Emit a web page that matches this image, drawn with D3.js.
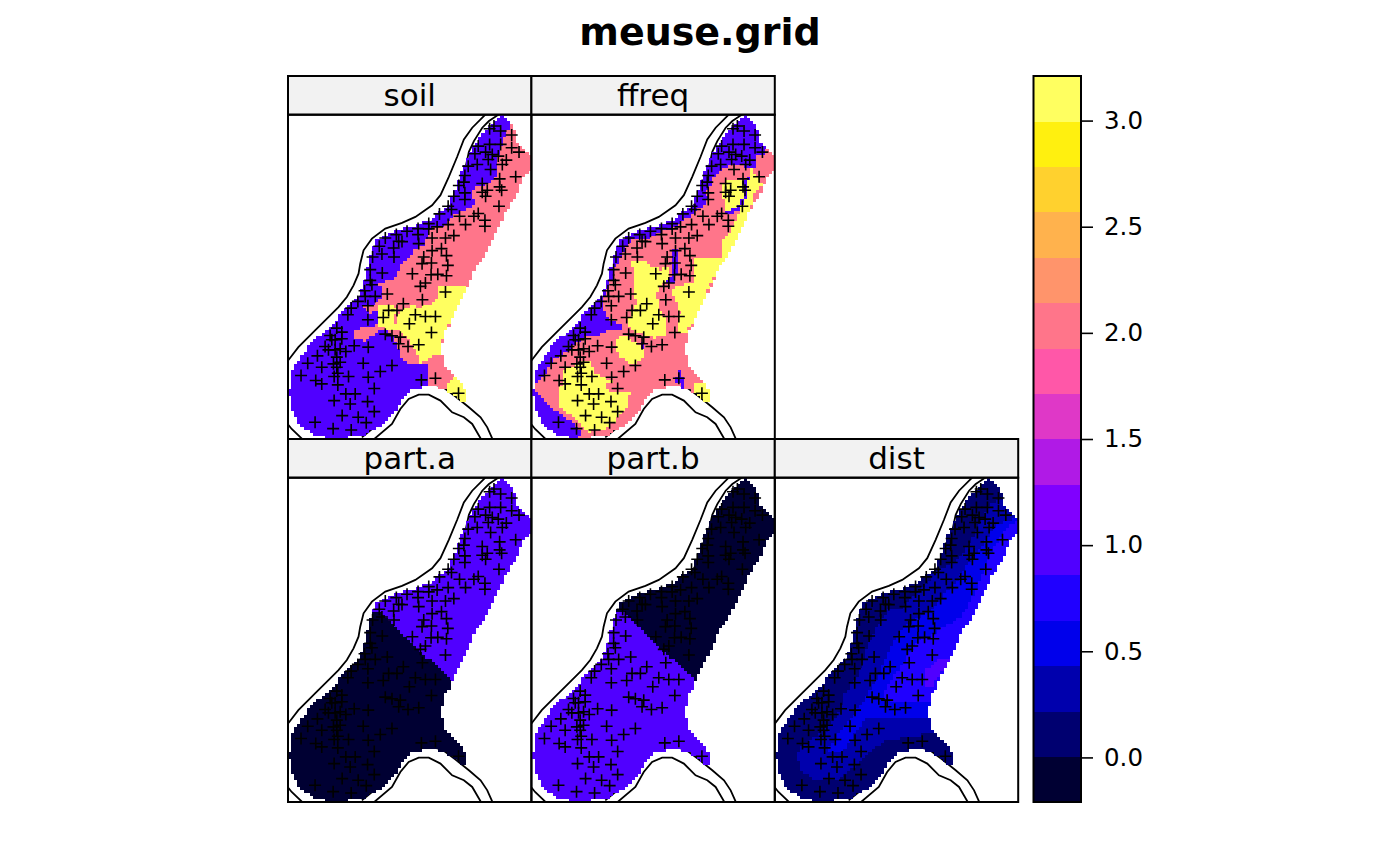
<!DOCTYPE html>
<html>
<head>
<meta charset="utf-8">
<title>meuse.grid</title>
<script src="https://cdn.jsdelivr.net/npm/d3@7"></script>
<style>
	html, body { margin: 0; padding: 0; background: #fff; }
	svg { display: block; }
	text { font-family: "DejaVu Sans", sans-serif; fill: #000; }
</style>
</head>
<body>
<div id="chart"></div>
<script>

// bpy.colors(16)
var bpyColours = ["#000033","#000070","#0000AD","#0000EB","#2000FF","#5000FF","#8000FF","#B01AE6",
	"#DF38C7","#FF57A8","#FF758A","#FF946B","#FFB24D","#FFD12E","#FFF00F","#FFFF60"];
var colourLimits = [-0.21, 3.21];
var legendTicks = [0, 0.5, 1, 1.5, 2, 2.5, 3];

// all shapes below are in map units
var mapXRange = [9, 737];
var mapYRange = [24, 995];
var gridCols = 78;
var gridRows = 104;

var gridOutline = [[648,24],[665,45],[685,65],[695,105],[715,125],[737,155],[733,190],[705,225],[690,268],[675,290],
	[655,320],[640,360],[627,385],[610,420],[595,450],[570,480],[555,515],[540,545],[525,575],[513,600],[497,630],
	[487,665],[477,670],[477,700],[468,710],[468,735],[477,745],[477,775],[487,790],[505,805],[525,825],[535,845],
	[543,850],[543,885],[525,885],[500,860],[470,845],[440,838],[380,845],[350,870],[330,910],[290,950],[235,985],
	[150,995],[90,985],[40,950],[20,900],[12,860],[18,800],[35,770],[60,730],[95,690],[130,670],[160,630],[185,595],
	[215,570],[235,530],[245,490],[260,430],[270,405],[300,385],[340,368],[380,360],[430,340],[465,315],[490,290],
	[510,240],[525,200],[550,150],[570,110],[590,80],[620,55],[635,35]];

var soilPink = [[675,58],[665,73],[655,98],[640,138],[635,198],[625,223],[560,246],[568,293],[500,328],[470,358],
	[430,368],[420,413],[380,428],[375,458],[360,458],[340,488],[335,513],[280,528],[290,553],[280,588],[225,593],
	[250,618],[280,613],[278,653],[205,668],[205,693],[235,703],[262,686],[300,660],[310,676],[325,696],[345,733],
	[345,748],[365,768],[420,770],[430,773],[430,836],[480,851],[560,896],[800,600],[800,0],[700,0]];
var soilYellow = [[278,588],[300,598],[330,598],[340,618],[385,593],[395,603],[450,583],[460,538],[560,536],[525,578],
	[510,608],[495,638],[480,668],[470,698],[467,738],[440,748],[405,768],[395,743],[370,698],[345,668],[325,663],
	[310,668],[280,653],[278,618]];
var soilYellowSouth = [[487,828],[505,810],[560,846],[560,896],[525,883],[487,853]];
var soilNotch = [[325,621],[337,621],[337,648],[325,648]];

var ffreqBlueNorth = [[644,8],[684,58],[714,138],[684,150],[684,183],[604,173],[579,188],[554,208],[549,238],[529,253],
	[539,273],[529,293],[494,318],[444,358],[389,378],[354,398],[314,398],[289,418],[274,458],[254,488],[244,528],
	[229,568],[219,598],[244,638],[279,653],[279,666],[234,670],[204,686],[169,690],[134,718],[104,738],[74,760],
	[49,798],[29,826],[9,828],[-16,778],[104,658],[204,538],[300,300],[500,100],[600,0]];
var ffreqBlueSouth = [[9,846],[39,868],[64,898],[114,933],[139,948],[166,988],[104,998],[24,958],[4,898]];
var ffreqBlueSmall = [[436,823],[449,788],[459,793],[469,843],[459,843],[449,823],[414,826]];
var ffreqBlueThin = [[429,423],[449,423],[444,488],[439,528],[419,533],[414,523],[429,498]];
var ffreqBlueDitch = [[334,703],[349,703],[349,733],[339,733]];
var ffreqBlueCurve = [[649,218],[659,208],[654,258],[644,288],[629,316],[589,321],[589,313],[624,306],[639,278],[644,238]];
var ffreqYellowNorth = [[589,218],[644,223],[659,208],[666,183],[684,208],[699,233],[674,263],[664,308],[644,358],
	[629,388],[614,418],[599,458],[579,458],[582,403],[614,358],[629,328],[644,313],[594,318],[582,273],[579,238]];
var ffreqYellowCentre = [[314,488],[304,470],[335,458],[369,478],[399,488],[424,478],[424,518],[399,533],[384,563],[399,618],
	[414,653],[414,688],[374,693],[344,683],[304,668],[299,638],[324,588],[314,538]];
var ffreqYellowEast = [[494,448],[499,488],[494,523],[424,548],[444,588],[454,613],[444,643],[449,678],[474,673],
	[499,633],[519,593],[534,553],[554,513],[574,473],[584,463],[604,428],[579,423],[579,453],[514,458]];
var ffreqYellowLow = [[259,693],[294,688],[334,718],[349,738],[329,768],[304,768],[269,748],[259,718]];
var ffreqYellowWest = [[104,788],[129,778],[179,758],[199,798],[219,808],[254,818],[229,838],[249,858],[304,858],
	[299,898],[274,918],[254,948],[224,968],[174,973],[144,938],[104,908],[89,888],[89,848],[104,823]];
var ffreqYellowSouth = [[494,828],[529,828],[544,848],[544,883],[524,883],[499,858]];

var partNorth = [[255,420],[290,430],[495,630],[800,640],[800,0],[255,0]];

var distBand2 = [[687,85],[647,110],[607,190],[567,260],[487,310],[437,370],[387,420],[347,420],[297,500],[277,560],
	[257,620],[217,670],[207,720],[157,780],[97,820],[72,850],[87,900],[127,930],[207,925],[277,860],[337,810],
	[480,790],[800,790],[800,85]];
var distBand3 = [[717,150],[667,170],[627,230],[597,270],[547,340],[477,420],[397,470],[357,530],[317,620],[277,690],
	[217,770],[157,850],[207,850],[250,790],[280,745],[800,745],[800,150]];
var distBand4 = [[732,155],[702,175],[657,250],[627,320],[597,390],[567,440],[487,490],[437,510],[377,600],[327,680],
	[367,697],[800,697],[800,155]];
var distBand5 = [[532,565],[502,565],[457,600],[452,650],[482,650],[497,620],[517,590]];

// panel name, value outside every zone, then [value, polygon] on top of each other
var panelNames = ["soil", "ffreq", "part.a", "part.b", "dist"];
var panelBase = [1, 2, 0, 1, 0.1];
var panelZones = [
	[[2, soilPink], [3, soilYellow], [3, soilYellowSouth], [2, soilNotch]],
	[[1, ffreqBlueNorth], [1, ffreqBlueSouth], [1, ffreqBlueSmall], [1, ffreqBlueThin], [1, ffreqBlueDitch],
		[3, ffreqYellowNorth], [3, ffreqYellowCentre], [3, ffreqYellowEast], [3, ffreqYellowLow], [3, ffreqYellowWest],
		[3, ffreqYellowSouth], [1, ffreqBlueCurve]],
	[[1, partNorth]],
	[[0, partNorth]],
	[[0.32, distBand2], [0.54, distBand3], [0.75, distBand4], [0.96, distBand5]]
];
var panelCol = [0, 1, 0, 1, 2];
var panelRow = [0, 0, 1, 1, 1];

// the banks run under the grid, so only part of each one shows
var riverLines = [
	[[0,772],[40,720],[90,670],[130,630],[160,600],[185,570],[205,535],[220,500],[225,470],[235,430],[260,395],[300,365],
		[350,348],[390,330],[440,295],[465,265],[490,210],[515,150],[535,98],[560,63],[600,23],[625,5]],
	[[60,745],[100,700],[160,645],[205,600],[245,545],[255,500],[270,445],[285,415],[320,395],[370,378],[430,350],
		[480,320],[510,270],[535,205],[550,135],[565,103],[590,63],[610,43],[640,23],[660,10]],
	[[230,990],[285,945],[325,900],[345,860],[385,835],[430,828],[470,838],[510,868],[550,900],[585,930],[605,960],[625,1005]],
	[[255,1005],[320,950],[345,905],[370,875],[400,862],[430,862],[465,880],[500,915],[535,930],[560,950],[592,1005]],
	[[0,940],[20,965],[60,1003]]
];

var meusePoints = [[612,66],[625,58],[645,73],[678,85],[612,113],[645,113],[578,118],[678,123],[600,136],[568,141],
	[700,136],[620,143],[638,148],[608,158],[662,160],[650,173],[548,178],[575,173],[615,188],[690,210],[538,206],
	[642,216],[535,226],[520,236],[590,230],[642,240],[648,250],[605,250],[590,256],[538,258],[505,268],[600,268],
	[538,278],[488,298],[498,308],[640,298],[462,321],[522,328],[578,320],[565,328],[598,340],[430,350],[540,353],
	[488,353],[598,358],[455,360],[398,365],[365,373],[430,366],[333,383],[398,383],[300,393],[505,386],[480,393],
	[340,403],[350,404],[440,393],[325,423],[282,418],[400,410],[440,431],[468,425],[290,441],[483,446],[326,450],
	[262,450],[415,450],[410,470],[438,468],[487,475],[255,488],[291,498],[381,500],[437,503],[457,502],[483,506],
	[255,520],[260,533],[420,528],[405,538],[480,555],[238,551],[306,561],[240,568],[270,568],[218,583],[411,578],
	[354,590],[248,596],[198,603],[310,610],[335,610],[188,623],[390,623],[420,628],[450,628],[294,631],[248,638],
	[372,650],[155,663],[170,675],[438,676],[135,685],[300,681],[320,686],[345,690],[140,698],[170,695],[150,698],
	[340,710],[400,713],[368,718],[120,718],[207,716],[249,720],[130,728],[165,725],[150,728],[182,733],[97,746],
	[155,750],[165,765],[68,768],[234,768],[145,770],[155,780],[320,775],[110,780],[285,793],[158,798],[48,805],
	[147,808],[190,808],[249,810],[92,820],[408,818],[450,813],[110,830],[158,833],[267,844],[182,860],[210,860],
	[519,858],[147,880],[247,883],[195,890],[267,913],[171,925],[219,930],[90,945],[243,946],[144,964],[198,968]];

var svg = d3.select("#chart").append("svg").attr("width", 1400).attr("height", 866);

var margin = {"top": 76, "left": 288};
var panelW = 243.4;
var panelH = 324.3;
var stripH = 38.7;

var colour = d3.scaleQuantize().domain(colourLimits).range(bpyColours);
var mapX = d3.scaleLinear().domain(mapXRange).range([0, panelW]);
var mapY = d3.scaleLinear().domain(mapYRange).range([0, panelH]);

// the cells of the grid that fall inside the outline
var cells = [];
var cellW = (mapXRange[1] - mapXRange[0]) / gridCols;
var cellH = (mapYRange[1] - mapYRange[0]) / gridRows;
for (var r = 0; r < gridRows; r++) {
	for (var c = 0; c < gridCols; c++) {
		var cx = mapXRange[0] + (c + 0.5) * cellW;
		var cy = mapYRange[0] + (r + 0.5) * cellH;
		if (d3.polygonContains(gridOutline, [cx, cy]))
			cells.push({"x": cx, "y": cy});
	}
}

function cellValue(p, cell) {
	var v = panelBase[p];
	panelZones[p].forEach(function(z) {
		if (d3.polygonContains(z[1], [cell.x, cell.y])) v = z[0];
	});
	return v;
}

var riverPath = d3.line().x(function(d) { return mapX(d[0]); }).y(function(d) { return mapY(d[1]); });

panelNames.forEach(function(name, p) {
	var g = svg.append("g")
		.attr("transform", "translate(" + (margin.left + panelCol[p] * panelW) + "," + (margin.top + panelRow[p] * (panelH + stripH)) + ")");

	g.append("rect")
		.attr("width", panelW)
		.attr("height", stripH)
		.attr("fill", "#f2f2f2")
		.attr("stroke", "black")
		.attr("stroke-width", 2);

	var body = g.append("g").attr("transform", "translate(0," + stripH + ")");
	svg.append("clipPath").attr("id", "clip" + p).append("rect").attr("width", panelW).attr("height", panelH);
	var inner = body.append("g").attr("clip-path", "url(#clip" + p + ")");

	inner.selectAll("path.river")
		.data(riverLines)
		.enter().append("path")
		.attr("class", "river")
		.attr("d", riverPath)
		.attr("fill", "none")
		.attr("stroke", "black")
		.attr("stroke-width", 1.8);

	inner.selectAll("rect.cell")
		.data(cells)
		.enter().append("rect")
		.attr("class", "cell")
		.attr("x", function(d) { return mapX(d.x - cellW / 2); })
		.attr("y", function(d) { return mapY(d.y - cellH / 2); })
		.attr("width", mapX(cellW) - mapX(0) + 0.3)
		.attr("height", mapY(cellH) - mapY(0) + 0.3)
		.attr("shape-rendering", "crispEdges")
		.attr("fill", function(d) { return colour(cellValue(p, d)); });

	inner.selectAll("path.point")
		.data(meusePoints)
		.enter().append("path")
		.attr("class", "point")
		.attr("transform", function(d) { return "translate(" + mapX(d[0]) + "," + mapY(d[1]) + ")"; })
		.attr("d", "M-6 0H6M0 -6V6")
		.attr("fill", "none")
		.attr("stroke", "black")
		.attr("stroke-width", 1.6);

	body.append("rect")
		.attr("width", panelW)
		.attr("height", panelH)
		.attr("fill", "none")
		.attr("stroke", "black")
		.attr("stroke-width", 2);

	// after the frame, the tail of the q runs onto it
	g.append("text")
		.attr("x", panelW / 2)
		.attr("y", stripH / 2 + 10.5)
		.attr("text-anchor", "middle")
		.style("font-size", "31px")
		.text(name);
});

svg.append("text")
	.attr("x", 700)
	.attr("y", 45)
	.attr("text-anchor", "middle")
	.style("font-size", "38px")
	.style("font-weight", "bold")
	.text("meuse.grid");

// colour key
var keyX = 1033.5, keyW = 47.5, keyTop = 76, keyBottom = 802;
var keyY = d3.scaleLinear().domain(colourLimits).range([keyBottom, keyTop]);
var key = svg.append("g");
key.selectAll("rect.band")
	.data(bpyColours)
	.enter().append("rect")
	.attr("class", "band")
	.attr("x", keyX)
	.attr("width", keyW)
	.attr("y", function(d) { return keyY(colour.invertExtent(d)[1]); })
	.attr("height", function(d) { return keyY(colour.invertExtent(d)[0]) - keyY(colour.invertExtent(d)[1]) + 0.3; })
	.attr("shape-rendering", "crispEdges")
	.attr("fill", function(d) { return d; });
key.append("rect")
	.attr("x", keyX)
	.attr("y", keyTop)
	.attr("width", keyW)
	.attr("height", keyBottom - keyTop)
	.attr("fill", "none")
	.attr("stroke", "black")
	.attr("stroke-width", 2);

var keyAxis = d3.axisRight(keyY)
	.tickValues(legendTicks)
	.tickFormat(d3.format(".1f"))
	.tickSize(12)
	.tickPadding(11);
var keyAxisG = key.append("g")
	.attr("transform", "translate(" + (keyX + keyW) + ",0)")
	.call(keyAxis);
keyAxisG.select(".domain").remove();
keyAxisG.selectAll("line").attr("stroke", "black").attr("stroke-width", 1.6);
keyAxisG.selectAll("text").style("font-family", "DejaVu Sans").style("font-size", "24.5px");

</script>
</body>
</html>
